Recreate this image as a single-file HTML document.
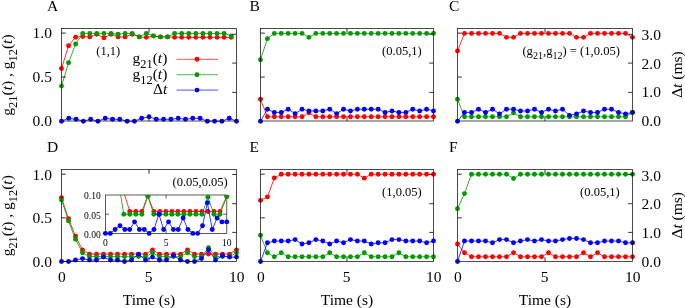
<!DOCTYPE html>
<html lang="en"><head><meta charset="utf-8"><title>Figure</title>
<style>html,body{margin:0;padding:0;background:#fff;overflow:hidden}svg{display:block;will-change:transform}</style></head>
<body>
<svg width="685" height="308" viewBox="0 0 685 308" font-family="'Liberation Serif', serif" fill="#000">
<rect width="685" height="308" fill="#fff"/>
<defs><clipPath id="ins"><rect x="105.4" y="195" width="121.4" height="38.4"/></clipPath></defs>
<g>
<polyline points="61.50,68.52 68.57,45.69 75.64,37.18 82.71,36.47 89.78,36.91 96.85,34.28 103.92,37.79 110.99,34.28 118.06,36.91 125.13,36.91 132.20,34.28 139.27,36.91 146.34,37.35 153.41,36.03 160.48,36.91 167.55,36.91 174.62,37.35 181.69,37.35 188.76,37.35 195.83,37.35 202.90,37.35 209.97,37.35 217.04,37.35 224.11,37.35 231.18,37.35" fill="none" stroke="#ff0000" stroke-width="0.80"/>
<circle cx="61.50" cy="68.52" r="2.45" fill="#ff0000"/>
<circle cx="68.57" cy="45.69" r="2.45" fill="#ff0000"/>
<circle cx="75.64" cy="37.18" r="2.45" fill="#ff0000"/>
<circle cx="82.71" cy="36.47" r="2.45" fill="#ff0000"/>
<circle cx="89.78" cy="36.91" r="2.45" fill="#ff0000"/>
<circle cx="96.85" cy="34.28" r="2.45" fill="#ff0000"/>
<circle cx="103.92" cy="37.79" r="2.45" fill="#ff0000"/>
<circle cx="110.99" cy="34.28" r="2.45" fill="#ff0000"/>
<circle cx="118.06" cy="36.91" r="2.45" fill="#ff0000"/>
<circle cx="125.13" cy="36.91" r="2.45" fill="#ff0000"/>
<circle cx="132.20" cy="34.28" r="2.45" fill="#ff0000"/>
<circle cx="139.27" cy="36.91" r="2.45" fill="#ff0000"/>
<circle cx="146.34" cy="37.35" r="2.45" fill="#ff0000"/>
<circle cx="153.41" cy="36.03" r="2.45" fill="#ff0000"/>
<circle cx="160.48" cy="36.91" r="2.45" fill="#ff0000"/>
<circle cx="167.55" cy="36.91" r="2.45" fill="#ff0000"/>
<circle cx="174.62" cy="37.35" r="2.45" fill="#ff0000"/>
<circle cx="181.69" cy="37.35" r="2.45" fill="#ff0000"/>
<circle cx="188.76" cy="37.35" r="2.45" fill="#ff0000"/>
<circle cx="195.83" cy="37.35" r="2.45" fill="#ff0000"/>
<circle cx="202.90" cy="37.35" r="2.45" fill="#ff0000"/>
<circle cx="209.97" cy="37.35" r="2.45" fill="#ff0000"/>
<circle cx="217.04" cy="37.35" r="2.45" fill="#ff0000"/>
<circle cx="224.11" cy="37.35" r="2.45" fill="#ff0000"/>
<circle cx="231.18" cy="37.35" r="2.45" fill="#ff0000"/>
</g>
<g>
<polyline points="61.50,86.08 68.57,62.81 75.64,43.94 82.71,33.40 89.78,33.40 96.85,33.40 103.92,33.40 110.99,33.40 118.06,34.28 125.13,33.40 132.20,33.40 139.27,36.91 146.34,33.40 153.41,35.86 160.48,36.91 167.55,36.91 174.62,33.40 181.69,33.40 188.76,33.40 195.83,33.40 202.90,33.40 209.97,33.40 217.04,33.40 224.11,33.40 231.18,35.86" fill="none" stroke="#009a00" stroke-width="0.80"/>
<circle cx="61.50" cy="86.08" r="2.45" fill="#009a00"/>
<circle cx="68.57" cy="62.81" r="2.45" fill="#009a00"/>
<circle cx="75.64" cy="43.94" r="2.45" fill="#009a00"/>
<circle cx="82.71" cy="33.40" r="2.45" fill="#009a00"/>
<circle cx="89.78" cy="33.40" r="2.45" fill="#009a00"/>
<circle cx="96.85" cy="33.40" r="2.45" fill="#009a00"/>
<circle cx="103.92" cy="33.40" r="2.45" fill="#009a00"/>
<circle cx="110.99" cy="33.40" r="2.45" fill="#009a00"/>
<circle cx="118.06" cy="34.28" r="2.45" fill="#009a00"/>
<circle cx="125.13" cy="33.40" r="2.45" fill="#009a00"/>
<circle cx="132.20" cy="33.40" r="2.45" fill="#009a00"/>
<circle cx="139.27" cy="36.91" r="2.45" fill="#009a00"/>
<circle cx="146.34" cy="33.40" r="2.45" fill="#009a00"/>
<circle cx="153.41" cy="35.86" r="2.45" fill="#009a00"/>
<circle cx="160.48" cy="36.91" r="2.45" fill="#009a00"/>
<circle cx="167.55" cy="36.91" r="2.45" fill="#009a00"/>
<circle cx="174.62" cy="33.40" r="2.45" fill="#009a00"/>
<circle cx="181.69" cy="33.40" r="2.45" fill="#009a00"/>
<circle cx="188.76" cy="33.40" r="2.45" fill="#009a00"/>
<circle cx="195.83" cy="33.40" r="2.45" fill="#009a00"/>
<circle cx="202.90" cy="33.40" r="2.45" fill="#009a00"/>
<circle cx="209.97" cy="33.40" r="2.45" fill="#009a00"/>
<circle cx="217.04" cy="33.40" r="2.45" fill="#009a00"/>
<circle cx="224.11" cy="33.40" r="2.45" fill="#009a00"/>
<circle cx="231.18" cy="35.86" r="2.45" fill="#009a00"/>
</g>
<g>
<polyline points="61.50,121.20 68.79,118.28 76.08,119.30 83.38,121.20 90.67,119.30 97.96,121.20 105.25,118.28 112.54,119.30 119.83,119.30 127.12,121.20 134.42,121.20 141.71,118.28 149.00,116.82 156.29,119.30 163.58,119.30 170.88,119.30 178.17,118.28 185.46,119.30 192.75,118.28 200.04,118.28 207.33,121.20 214.62,121.20 221.92,121.20 229.21,118.28 236.50,121.20" fill="none" stroke="#0000ff" stroke-width="0.80"/>
<circle cx="61.50" cy="121.20" r="2.45" fill="#0000ff"/>
<circle cx="68.79" cy="118.28" r="2.45" fill="#0000ff"/>
<circle cx="76.08" cy="119.30" r="2.45" fill="#0000ff"/>
<circle cx="83.38" cy="121.20" r="2.45" fill="#0000ff"/>
<circle cx="90.67" cy="119.30" r="2.45" fill="#0000ff"/>
<circle cx="97.96" cy="121.20" r="2.45" fill="#0000ff"/>
<circle cx="105.25" cy="118.28" r="2.45" fill="#0000ff"/>
<circle cx="112.54" cy="119.30" r="2.45" fill="#0000ff"/>
<circle cx="119.83" cy="119.30" r="2.45" fill="#0000ff"/>
<circle cx="127.12" cy="121.20" r="2.45" fill="#0000ff"/>
<circle cx="134.42" cy="121.20" r="2.45" fill="#0000ff"/>
<circle cx="141.71" cy="118.28" r="2.45" fill="#0000ff"/>
<circle cx="149.00" cy="116.82" r="2.45" fill="#0000ff"/>
<circle cx="156.29" cy="119.30" r="2.45" fill="#0000ff"/>
<circle cx="163.58" cy="119.30" r="2.45" fill="#0000ff"/>
<circle cx="170.88" cy="119.30" r="2.45" fill="#0000ff"/>
<circle cx="178.17" cy="118.28" r="2.45" fill="#0000ff"/>
<circle cx="185.46" cy="119.30" r="2.45" fill="#0000ff"/>
<circle cx="192.75" cy="118.28" r="2.45" fill="#0000ff"/>
<circle cx="200.04" cy="118.28" r="2.45" fill="#0000ff"/>
<circle cx="207.33" cy="121.20" r="2.45" fill="#0000ff"/>
<circle cx="214.62" cy="121.20" r="2.45" fill="#0000ff"/>
<circle cx="221.92" cy="121.20" r="2.45" fill="#0000ff"/>
<circle cx="229.21" cy="118.28" r="2.45" fill="#0000ff"/>
<circle cx="236.50" cy="121.20" r="2.45" fill="#0000ff"/>
</g>
<rect x="61.50" y="28.50" width="175.00" height="92.50" fill="none" stroke="#111" stroke-width="0.75"/>
<path d="M149.00 121.00v-4.30 M149.00 28.50v4.30 M61.50 77.05h4.30 M61.50 33.10h4.30 M236.50 92.40h-4.30 M236.50 63.10h-4.30 M236.50 34.30h-4.30 " stroke="#111" stroke-width="0.85" fill="none"/>
<g>
<polyline points="260.50,99.25 267.42,116.81 274.34,116.81 281.26,116.81 288.18,116.81 295.10,116.81 302.02,116.81 308.94,112.86 315.86,116.81 322.78,116.81 329.70,116.81 336.62,116.81 343.54,116.81 350.46,116.81 357.38,116.81 364.30,116.81 371.22,116.81 378.14,116.81 385.06,116.81 391.98,116.81 398.90,116.81 405.82,116.81 412.74,116.81 419.66,116.81 426.58,116.81 433.50,116.81" fill="none" stroke="#ff0000" stroke-width="0.80"/>
<circle cx="260.50" cy="99.25" r="2.45" fill="#ff0000"/>
<circle cx="267.42" cy="116.81" r="2.45" fill="#ff0000"/>
<circle cx="274.34" cy="116.81" r="2.45" fill="#ff0000"/>
<circle cx="281.26" cy="116.81" r="2.45" fill="#ff0000"/>
<circle cx="288.18" cy="116.81" r="2.45" fill="#ff0000"/>
<circle cx="295.10" cy="116.81" r="2.45" fill="#ff0000"/>
<circle cx="302.02" cy="116.81" r="2.45" fill="#ff0000"/>
<circle cx="308.94" cy="112.86" r="2.45" fill="#ff0000"/>
<circle cx="315.86" cy="116.81" r="2.45" fill="#ff0000"/>
<circle cx="322.78" cy="116.81" r="2.45" fill="#ff0000"/>
<circle cx="329.70" cy="116.81" r="2.45" fill="#ff0000"/>
<circle cx="336.62" cy="116.81" r="2.45" fill="#ff0000"/>
<circle cx="343.54" cy="116.81" r="2.45" fill="#ff0000"/>
<circle cx="350.46" cy="116.81" r="2.45" fill="#ff0000"/>
<circle cx="357.38" cy="116.81" r="2.45" fill="#ff0000"/>
<circle cx="364.30" cy="116.81" r="2.45" fill="#ff0000"/>
<circle cx="371.22" cy="116.81" r="2.45" fill="#ff0000"/>
<circle cx="378.14" cy="116.81" r="2.45" fill="#ff0000"/>
<circle cx="385.06" cy="116.81" r="2.45" fill="#ff0000"/>
<circle cx="391.98" cy="116.81" r="2.45" fill="#ff0000"/>
<circle cx="398.90" cy="116.81" r="2.45" fill="#ff0000"/>
<circle cx="405.82" cy="116.81" r="2.45" fill="#ff0000"/>
<circle cx="412.74" cy="116.81" r="2.45" fill="#ff0000"/>
<circle cx="419.66" cy="116.81" r="2.45" fill="#ff0000"/>
<circle cx="426.58" cy="116.81" r="2.45" fill="#ff0000"/>
<circle cx="433.50" cy="116.81" r="2.45" fill="#ff0000"/>
</g>
<g>
<polyline points="260.50,59.74 267.42,38.67 274.34,33.40 281.26,33.40 288.18,33.40 295.10,33.40 302.02,33.40 308.94,37.35 315.86,33.40 322.78,33.40 329.70,33.40 336.62,33.40 343.54,33.40 350.46,33.40 357.38,33.40 364.30,33.40 371.22,33.40 378.14,33.40 385.06,33.40 391.98,33.40 398.90,33.40 405.82,33.40 412.74,33.40 419.66,33.40 426.58,33.40 433.50,33.40" fill="none" stroke="#009a00" stroke-width="0.80"/>
<circle cx="260.50" cy="59.74" r="2.45" fill="#009a00"/>
<circle cx="267.42" cy="38.67" r="2.45" fill="#009a00"/>
<circle cx="274.34" cy="33.40" r="2.45" fill="#009a00"/>
<circle cx="281.26" cy="33.40" r="2.45" fill="#009a00"/>
<circle cx="288.18" cy="33.40" r="2.45" fill="#009a00"/>
<circle cx="295.10" cy="33.40" r="2.45" fill="#009a00"/>
<circle cx="302.02" cy="33.40" r="2.45" fill="#009a00"/>
<circle cx="308.94" cy="37.35" r="2.45" fill="#009a00"/>
<circle cx="315.86" cy="33.40" r="2.45" fill="#009a00"/>
<circle cx="322.78" cy="33.40" r="2.45" fill="#009a00"/>
<circle cx="329.70" cy="33.40" r="2.45" fill="#009a00"/>
<circle cx="336.62" cy="33.40" r="2.45" fill="#009a00"/>
<circle cx="343.54" cy="33.40" r="2.45" fill="#009a00"/>
<circle cx="350.46" cy="33.40" r="2.45" fill="#009a00"/>
<circle cx="357.38" cy="33.40" r="2.45" fill="#009a00"/>
<circle cx="364.30" cy="33.40" r="2.45" fill="#009a00"/>
<circle cx="371.22" cy="33.40" r="2.45" fill="#009a00"/>
<circle cx="378.14" cy="33.40" r="2.45" fill="#009a00"/>
<circle cx="385.06" cy="33.40" r="2.45" fill="#009a00"/>
<circle cx="391.98" cy="33.40" r="2.45" fill="#009a00"/>
<circle cx="398.90" cy="33.40" r="2.45" fill="#009a00"/>
<circle cx="405.82" cy="33.40" r="2.45" fill="#009a00"/>
<circle cx="412.74" cy="33.40" r="2.45" fill="#009a00"/>
<circle cx="419.66" cy="33.40" r="2.45" fill="#009a00"/>
<circle cx="426.58" cy="33.40" r="2.45" fill="#009a00"/>
<circle cx="433.50" cy="33.40" r="2.45" fill="#009a00"/>
</g>
<g>
<polyline points="260.50,121.20 267.42,109.23 274.34,112.44 281.26,112.44 288.18,109.23 295.10,113.61 302.02,109.23 308.94,110.98 315.86,110.98 322.78,110.98 329.70,109.23 336.62,113.61 343.54,109.23 350.46,110.98 357.38,109.23 364.30,109.23 371.22,109.23 378.14,109.23 385.06,112.44 391.98,110.98 398.90,112.44 405.82,112.44 412.74,109.23 419.66,110.98 426.58,109.23 433.50,110.98" fill="none" stroke="#0000ff" stroke-width="0.80"/>
<circle cx="260.50" cy="121.20" r="2.45" fill="#0000ff"/>
<circle cx="267.42" cy="109.23" r="2.45" fill="#0000ff"/>
<circle cx="274.34" cy="112.44" r="2.45" fill="#0000ff"/>
<circle cx="281.26" cy="112.44" r="2.45" fill="#0000ff"/>
<circle cx="288.18" cy="109.23" r="2.45" fill="#0000ff"/>
<circle cx="295.10" cy="113.61" r="2.45" fill="#0000ff"/>
<circle cx="302.02" cy="109.23" r="2.45" fill="#0000ff"/>
<circle cx="308.94" cy="110.98" r="2.45" fill="#0000ff"/>
<circle cx="315.86" cy="110.98" r="2.45" fill="#0000ff"/>
<circle cx="322.78" cy="110.98" r="2.45" fill="#0000ff"/>
<circle cx="329.70" cy="109.23" r="2.45" fill="#0000ff"/>
<circle cx="336.62" cy="113.61" r="2.45" fill="#0000ff"/>
<circle cx="343.54" cy="109.23" r="2.45" fill="#0000ff"/>
<circle cx="350.46" cy="110.98" r="2.45" fill="#0000ff"/>
<circle cx="357.38" cy="109.23" r="2.45" fill="#0000ff"/>
<circle cx="364.30" cy="109.23" r="2.45" fill="#0000ff"/>
<circle cx="371.22" cy="109.23" r="2.45" fill="#0000ff"/>
<circle cx="378.14" cy="109.23" r="2.45" fill="#0000ff"/>
<circle cx="385.06" cy="112.44" r="2.45" fill="#0000ff"/>
<circle cx="391.98" cy="110.98" r="2.45" fill="#0000ff"/>
<circle cx="398.90" cy="112.44" r="2.45" fill="#0000ff"/>
<circle cx="405.82" cy="112.44" r="2.45" fill="#0000ff"/>
<circle cx="412.74" cy="109.23" r="2.45" fill="#0000ff"/>
<circle cx="419.66" cy="110.98" r="2.45" fill="#0000ff"/>
<circle cx="426.58" cy="109.23" r="2.45" fill="#0000ff"/>
<circle cx="433.50" cy="110.98" r="2.45" fill="#0000ff"/>
</g>
<rect x="260.50" y="28.50" width="173.00" height="92.50" fill="none" stroke="#111" stroke-width="0.75"/>
<path d="M347.00 121.00v-4.30 M347.00 28.50v4.30 M260.50 77.05h4.30 M260.50 33.10h4.30 M433.50 92.40h-4.30 M433.50 63.10h-4.30 M433.50 34.30h-4.30 " stroke="#111" stroke-width="0.85" fill="none"/>
<g>
<polyline points="457.50,50.96 464.50,33.40 471.50,33.40 478.50,33.40 485.50,33.40 492.50,33.40 499.50,33.40 506.50,37.35 513.50,37.35 520.50,33.40 527.50,33.40 534.50,33.40 541.50,33.40 548.50,33.40 555.50,33.40 562.50,33.40 569.50,33.40 576.50,37.35 583.50,37.35 590.50,33.40 597.50,33.40 604.50,33.40 611.50,33.40 618.50,33.40 625.50,33.40 632.50,37.35" fill="none" stroke="#ff0000" stroke-width="0.80"/>
<circle cx="457.50" cy="50.96" r="2.45" fill="#ff0000"/>
<circle cx="464.50" cy="33.40" r="2.45" fill="#ff0000"/>
<circle cx="471.50" cy="33.40" r="2.45" fill="#ff0000"/>
<circle cx="478.50" cy="33.40" r="2.45" fill="#ff0000"/>
<circle cx="485.50" cy="33.40" r="2.45" fill="#ff0000"/>
<circle cx="492.50" cy="33.40" r="2.45" fill="#ff0000"/>
<circle cx="499.50" cy="33.40" r="2.45" fill="#ff0000"/>
<circle cx="506.50" cy="37.35" r="2.45" fill="#ff0000"/>
<circle cx="513.50" cy="37.35" r="2.45" fill="#ff0000"/>
<circle cx="520.50" cy="33.40" r="2.45" fill="#ff0000"/>
<circle cx="527.50" cy="33.40" r="2.45" fill="#ff0000"/>
<circle cx="534.50" cy="33.40" r="2.45" fill="#ff0000"/>
<circle cx="541.50" cy="33.40" r="2.45" fill="#ff0000"/>
<circle cx="548.50" cy="33.40" r="2.45" fill="#ff0000"/>
<circle cx="555.50" cy="33.40" r="2.45" fill="#ff0000"/>
<circle cx="562.50" cy="33.40" r="2.45" fill="#ff0000"/>
<circle cx="569.50" cy="33.40" r="2.45" fill="#ff0000"/>
<circle cx="576.50" cy="37.35" r="2.45" fill="#ff0000"/>
<circle cx="583.50" cy="37.35" r="2.45" fill="#ff0000"/>
<circle cx="590.50" cy="33.40" r="2.45" fill="#ff0000"/>
<circle cx="597.50" cy="33.40" r="2.45" fill="#ff0000"/>
<circle cx="604.50" cy="33.40" r="2.45" fill="#ff0000"/>
<circle cx="611.50" cy="33.40" r="2.45" fill="#ff0000"/>
<circle cx="618.50" cy="33.40" r="2.45" fill="#ff0000"/>
<circle cx="625.50" cy="33.40" r="2.45" fill="#ff0000"/>
<circle cx="632.50" cy="37.35" r="2.45" fill="#ff0000"/>
</g>
<g>
<polyline points="457.50,99.25 464.50,116.81 471.50,116.81 478.50,116.81 485.50,116.81 492.50,116.81 499.50,116.81 506.50,116.81 513.50,112.86 520.50,116.81 527.50,116.81 534.50,116.81 541.50,116.81 548.50,116.81 555.50,116.81 562.50,116.81 569.50,116.81 576.50,116.81 583.50,116.81 590.50,116.81 597.50,116.81 604.50,116.81 611.50,116.81 618.50,116.81 625.50,116.81 632.50,112.42" fill="none" stroke="#009a00" stroke-width="0.80"/>
<circle cx="457.50" cy="99.25" r="2.45" fill="#009a00"/>
<circle cx="464.50" cy="116.81" r="2.45" fill="#009a00"/>
<circle cx="471.50" cy="116.81" r="2.45" fill="#009a00"/>
<circle cx="478.50" cy="116.81" r="2.45" fill="#009a00"/>
<circle cx="485.50" cy="116.81" r="2.45" fill="#009a00"/>
<circle cx="492.50" cy="116.81" r="2.45" fill="#009a00"/>
<circle cx="499.50" cy="116.81" r="2.45" fill="#009a00"/>
<circle cx="506.50" cy="116.81" r="2.45" fill="#009a00"/>
<circle cx="513.50" cy="112.86" r="2.45" fill="#009a00"/>
<circle cx="520.50" cy="116.81" r="2.45" fill="#009a00"/>
<circle cx="527.50" cy="116.81" r="2.45" fill="#009a00"/>
<circle cx="534.50" cy="116.81" r="2.45" fill="#009a00"/>
<circle cx="541.50" cy="116.81" r="2.45" fill="#009a00"/>
<circle cx="548.50" cy="116.81" r="2.45" fill="#009a00"/>
<circle cx="555.50" cy="116.81" r="2.45" fill="#009a00"/>
<circle cx="562.50" cy="116.81" r="2.45" fill="#009a00"/>
<circle cx="569.50" cy="116.81" r="2.45" fill="#009a00"/>
<circle cx="576.50" cy="116.81" r="2.45" fill="#009a00"/>
<circle cx="583.50" cy="116.81" r="2.45" fill="#009a00"/>
<circle cx="590.50" cy="116.81" r="2.45" fill="#009a00"/>
<circle cx="597.50" cy="116.81" r="2.45" fill="#009a00"/>
<circle cx="604.50" cy="116.81" r="2.45" fill="#009a00"/>
<circle cx="611.50" cy="116.81" r="2.45" fill="#009a00"/>
<circle cx="618.50" cy="116.81" r="2.45" fill="#009a00"/>
<circle cx="625.50" cy="116.81" r="2.45" fill="#009a00"/>
<circle cx="632.50" cy="112.42" r="2.45" fill="#009a00"/>
</g>
<g>
<polyline points="457.50,121.20 464.50,112.44 471.50,112.44 478.50,109.23 485.50,112.44 492.50,109.23 499.50,113.90 506.50,109.23 513.50,109.23 520.50,110.98 527.50,110.98 534.50,109.23 541.50,112.44 548.50,109.23 555.50,110.98 562.50,109.23 569.50,115.36 576.50,113.90 583.50,110.98 590.50,112.44 597.50,112.44 604.50,109.23 611.50,109.23 618.50,112.44 625.50,113.90 632.50,112.44" fill="none" stroke="#0000ff" stroke-width="0.80"/>
<circle cx="457.50" cy="121.20" r="2.45" fill="#0000ff"/>
<circle cx="464.50" cy="112.44" r="2.45" fill="#0000ff"/>
<circle cx="471.50" cy="112.44" r="2.45" fill="#0000ff"/>
<circle cx="478.50" cy="109.23" r="2.45" fill="#0000ff"/>
<circle cx="485.50" cy="112.44" r="2.45" fill="#0000ff"/>
<circle cx="492.50" cy="109.23" r="2.45" fill="#0000ff"/>
<circle cx="499.50" cy="113.90" r="2.45" fill="#0000ff"/>
<circle cx="506.50" cy="109.23" r="2.45" fill="#0000ff"/>
<circle cx="513.50" cy="109.23" r="2.45" fill="#0000ff"/>
<circle cx="520.50" cy="110.98" r="2.45" fill="#0000ff"/>
<circle cx="527.50" cy="110.98" r="2.45" fill="#0000ff"/>
<circle cx="534.50" cy="109.23" r="2.45" fill="#0000ff"/>
<circle cx="541.50" cy="112.44" r="2.45" fill="#0000ff"/>
<circle cx="548.50" cy="109.23" r="2.45" fill="#0000ff"/>
<circle cx="555.50" cy="110.98" r="2.45" fill="#0000ff"/>
<circle cx="562.50" cy="109.23" r="2.45" fill="#0000ff"/>
<circle cx="569.50" cy="115.36" r="2.45" fill="#0000ff"/>
<circle cx="576.50" cy="113.90" r="2.45" fill="#0000ff"/>
<circle cx="583.50" cy="110.98" r="2.45" fill="#0000ff"/>
<circle cx="590.50" cy="112.44" r="2.45" fill="#0000ff"/>
<circle cx="597.50" cy="112.44" r="2.45" fill="#0000ff"/>
<circle cx="604.50" cy="109.23" r="2.45" fill="#0000ff"/>
<circle cx="611.50" cy="109.23" r="2.45" fill="#0000ff"/>
<circle cx="618.50" cy="112.44" r="2.45" fill="#0000ff"/>
<circle cx="625.50" cy="113.90" r="2.45" fill="#0000ff"/>
<circle cx="632.50" cy="112.44" r="2.45" fill="#0000ff"/>
</g>
<rect x="457.50" y="28.50" width="175.00" height="92.50" fill="none" stroke="#111" stroke-width="0.75"/>
<path d="M545.00 121.00v-4.30 M545.00 28.50v4.30 M457.50 77.05h4.30 M457.50 33.10h4.30 M632.50 92.40h-4.30 M632.50 63.10h-4.30 M632.50 34.30h-4.30 " stroke="#111" stroke-width="0.85" fill="none"/>
<g>
<polyline points="61.50,197.77 68.50,218.72 75.50,236.18 82.50,249.98 89.50,254.08 96.50,254.08 103.50,254.08 110.50,254.08 117.50,254.08 124.50,254.08 131.50,254.08 138.50,254.08 145.50,254.08 152.50,249.89 159.50,254.08 166.50,254.08 173.50,254.08 180.50,254.08 187.50,249.89 194.50,254.08 201.50,254.08 208.50,254.08 215.50,254.08 222.50,254.08 229.50,254.08 236.50,249.89" fill="none" stroke="#ff0000" stroke-width="0.80"/>
<circle cx="61.50" cy="197.77" r="2.45" fill="#ff0000"/>
<circle cx="68.50" cy="218.72" r="2.45" fill="#ff0000"/>
<circle cx="75.50" cy="236.18" r="2.45" fill="#ff0000"/>
<circle cx="82.50" cy="249.98" r="2.45" fill="#ff0000"/>
<circle cx="89.50" cy="254.08" r="2.45" fill="#ff0000"/>
<circle cx="96.50" cy="254.08" r="2.45" fill="#ff0000"/>
<circle cx="103.50" cy="254.08" r="2.45" fill="#ff0000"/>
<circle cx="110.50" cy="254.08" r="2.45" fill="#ff0000"/>
<circle cx="117.50" cy="254.08" r="2.45" fill="#ff0000"/>
<circle cx="124.50" cy="254.08" r="2.45" fill="#ff0000"/>
<circle cx="131.50" cy="254.08" r="2.45" fill="#ff0000"/>
<circle cx="138.50" cy="254.08" r="2.45" fill="#ff0000"/>
<circle cx="145.50" cy="254.08" r="2.45" fill="#ff0000"/>
<circle cx="152.50" cy="249.89" r="2.45" fill="#ff0000"/>
<circle cx="159.50" cy="254.08" r="2.45" fill="#ff0000"/>
<circle cx="166.50" cy="254.08" r="2.45" fill="#ff0000"/>
<circle cx="173.50" cy="254.08" r="2.45" fill="#ff0000"/>
<circle cx="180.50" cy="254.08" r="2.45" fill="#ff0000"/>
<circle cx="187.50" cy="249.89" r="2.45" fill="#ff0000"/>
<circle cx="194.50" cy="254.08" r="2.45" fill="#ff0000"/>
<circle cx="201.50" cy="254.08" r="2.45" fill="#ff0000"/>
<circle cx="208.50" cy="254.08" r="2.45" fill="#ff0000"/>
<circle cx="215.50" cy="254.08" r="2.45" fill="#ff0000"/>
<circle cx="222.50" cy="254.08" r="2.45" fill="#ff0000"/>
<circle cx="229.50" cy="254.08" r="2.45" fill="#ff0000"/>
<circle cx="236.50" cy="249.89" r="2.45" fill="#ff0000"/>
</g>
<g>
<polyline points="61.50,199.95 68.50,220.91 75.50,239.24 82.50,252.77 89.50,256.61 96.50,256.61 103.50,256.61 110.50,256.61 117.50,256.61 124.50,256.61 131.50,256.61 138.50,256.61 145.50,256.61 152.50,252.77 159.50,256.61 166.50,256.61 173.50,256.61 180.50,256.61 187.50,252.77 194.50,256.61 201.50,256.61 208.50,247.79 215.50,256.61 222.50,256.61 229.50,256.61 236.50,252.77" fill="none" stroke="#009a00" stroke-width="0.80"/>
<circle cx="61.50" cy="199.95" r="2.45" fill="#009a00"/>
<circle cx="68.50" cy="220.91" r="2.45" fill="#009a00"/>
<circle cx="75.50" cy="239.24" r="2.45" fill="#009a00"/>
<circle cx="82.50" cy="252.77" r="2.45" fill="#009a00"/>
<circle cx="89.50" cy="256.61" r="2.45" fill="#009a00"/>
<circle cx="96.50" cy="256.61" r="2.45" fill="#009a00"/>
<circle cx="103.50" cy="256.61" r="2.45" fill="#009a00"/>
<circle cx="110.50" cy="256.61" r="2.45" fill="#009a00"/>
<circle cx="117.50" cy="256.61" r="2.45" fill="#009a00"/>
<circle cx="124.50" cy="256.61" r="2.45" fill="#009a00"/>
<circle cx="131.50" cy="256.61" r="2.45" fill="#009a00"/>
<circle cx="138.50" cy="256.61" r="2.45" fill="#009a00"/>
<circle cx="145.50" cy="256.61" r="2.45" fill="#009a00"/>
<circle cx="152.50" cy="252.77" r="2.45" fill="#009a00"/>
<circle cx="159.50" cy="256.61" r="2.45" fill="#009a00"/>
<circle cx="166.50" cy="256.61" r="2.45" fill="#009a00"/>
<circle cx="173.50" cy="256.61" r="2.45" fill="#009a00"/>
<circle cx="180.50" cy="256.61" r="2.45" fill="#009a00"/>
<circle cx="187.50" cy="252.77" r="2.45" fill="#009a00"/>
<circle cx="194.50" cy="256.61" r="2.45" fill="#009a00"/>
<circle cx="201.50" cy="256.61" r="2.45" fill="#009a00"/>
<circle cx="208.50" cy="247.79" r="2.45" fill="#009a00"/>
<circle cx="215.50" cy="256.61" r="2.45" fill="#009a00"/>
<circle cx="222.50" cy="256.61" r="2.45" fill="#009a00"/>
<circle cx="229.50" cy="256.61" r="2.45" fill="#009a00"/>
<circle cx="236.50" cy="252.77" r="2.45" fill="#009a00"/>
</g>
<g>
<polyline points="61.50,261.50 68.50,261.50 75.50,260.04 82.50,258.58 89.50,260.04 96.50,260.04 103.50,257.12 110.50,260.04 117.50,260.04 124.50,261.50 131.50,260.04 138.50,254.20 145.50,260.04 152.50,257.12 159.50,260.04 166.50,260.04 173.50,255.66 180.50,260.04 187.50,261.50 194.50,261.50 201.50,258.58 208.50,249.82 215.50,260.04 222.50,255.66 229.50,257.12 236.50,257.12" fill="none" stroke="#0000ff" stroke-width="0.80"/>
<circle cx="61.50" cy="261.50" r="2.45" fill="#0000ff"/>
<circle cx="68.50" cy="261.50" r="2.45" fill="#0000ff"/>
<circle cx="75.50" cy="260.04" r="2.45" fill="#0000ff"/>
<circle cx="82.50" cy="258.58" r="2.45" fill="#0000ff"/>
<circle cx="89.50" cy="260.04" r="2.45" fill="#0000ff"/>
<circle cx="96.50" cy="260.04" r="2.45" fill="#0000ff"/>
<circle cx="103.50" cy="257.12" r="2.45" fill="#0000ff"/>
<circle cx="110.50" cy="260.04" r="2.45" fill="#0000ff"/>
<circle cx="117.50" cy="260.04" r="2.45" fill="#0000ff"/>
<circle cx="124.50" cy="261.50" r="2.45" fill="#0000ff"/>
<circle cx="131.50" cy="260.04" r="2.45" fill="#0000ff"/>
<circle cx="138.50" cy="254.20" r="2.45" fill="#0000ff"/>
<circle cx="145.50" cy="260.04" r="2.45" fill="#0000ff"/>
<circle cx="152.50" cy="257.12" r="2.45" fill="#0000ff"/>
<circle cx="159.50" cy="260.04" r="2.45" fill="#0000ff"/>
<circle cx="166.50" cy="260.04" r="2.45" fill="#0000ff"/>
<circle cx="173.50" cy="255.66" r="2.45" fill="#0000ff"/>
<circle cx="180.50" cy="260.04" r="2.45" fill="#0000ff"/>
<circle cx="187.50" cy="261.50" r="2.45" fill="#0000ff"/>
<circle cx="194.50" cy="261.50" r="2.45" fill="#0000ff"/>
<circle cx="201.50" cy="258.58" r="2.45" fill="#0000ff"/>
<circle cx="208.50" cy="249.82" r="2.45" fill="#0000ff"/>
<circle cx="215.50" cy="260.04" r="2.45" fill="#0000ff"/>
<circle cx="222.50" cy="255.66" r="2.45" fill="#0000ff"/>
<circle cx="229.50" cy="257.12" r="2.45" fill="#0000ff"/>
<circle cx="236.50" cy="257.12" r="2.45" fill="#0000ff"/>
</g>
<rect x="61.50" y="169.40" width="175.00" height="92.10" fill="none" stroke="#111" stroke-width="0.75"/>
<path d="M149.00 261.50v-4.30 M149.00 169.40v4.30 M61.50 217.85h4.30 M61.50 174.20h4.30 M236.50 232.40h-4.30 M236.50 203.70h-4.30 M236.50 174.50h-4.30 " stroke="#111" stroke-width="0.85" fill="none"/>
<g>
<polyline points="260.50,200.39 267.42,196.90 274.34,178.04 281.26,174.20 288.18,174.20 295.10,174.20 302.02,174.20 308.94,174.20 315.86,174.20 322.78,174.20 329.70,174.20 336.62,174.20 343.54,174.20 350.46,174.20 357.38,174.20 364.30,178.13 371.22,174.20 378.14,174.20 385.06,174.20 391.98,174.20 398.90,174.20 405.82,174.20 412.74,174.20 419.66,174.20 426.58,174.20 433.50,174.20" fill="none" stroke="#ff0000" stroke-width="0.80"/>
<circle cx="260.50" cy="200.39" r="2.45" fill="#ff0000"/>
<circle cx="267.42" cy="196.90" r="2.45" fill="#ff0000"/>
<circle cx="274.34" cy="178.04" r="2.45" fill="#ff0000"/>
<circle cx="281.26" cy="174.20" r="2.45" fill="#ff0000"/>
<circle cx="288.18" cy="174.20" r="2.45" fill="#ff0000"/>
<circle cx="295.10" cy="174.20" r="2.45" fill="#ff0000"/>
<circle cx="302.02" cy="174.20" r="2.45" fill="#ff0000"/>
<circle cx="308.94" cy="174.20" r="2.45" fill="#ff0000"/>
<circle cx="315.86" cy="174.20" r="2.45" fill="#ff0000"/>
<circle cx="322.78" cy="174.20" r="2.45" fill="#ff0000"/>
<circle cx="329.70" cy="174.20" r="2.45" fill="#ff0000"/>
<circle cx="336.62" cy="174.20" r="2.45" fill="#ff0000"/>
<circle cx="343.54" cy="174.20" r="2.45" fill="#ff0000"/>
<circle cx="350.46" cy="174.20" r="2.45" fill="#ff0000"/>
<circle cx="357.38" cy="174.20" r="2.45" fill="#ff0000"/>
<circle cx="364.30" cy="178.13" r="2.45" fill="#ff0000"/>
<circle cx="371.22" cy="174.20" r="2.45" fill="#ff0000"/>
<circle cx="378.14" cy="174.20" r="2.45" fill="#ff0000"/>
<circle cx="385.06" cy="174.20" r="2.45" fill="#ff0000"/>
<circle cx="391.98" cy="174.20" r="2.45" fill="#ff0000"/>
<circle cx="398.90" cy="174.20" r="2.45" fill="#ff0000"/>
<circle cx="405.82" cy="174.20" r="2.45" fill="#ff0000"/>
<circle cx="412.74" cy="174.20" r="2.45" fill="#ff0000"/>
<circle cx="419.66" cy="174.20" r="2.45" fill="#ff0000"/>
<circle cx="426.58" cy="174.20" r="2.45" fill="#ff0000"/>
<circle cx="433.50" cy="174.20" r="2.45" fill="#ff0000"/>
</g>
<g>
<polyline points="260.50,235.31 267.42,252.77 274.34,256.79 281.26,252.77 288.18,256.79 295.10,256.79 302.02,256.79 308.94,256.79 315.86,256.79 322.78,256.79 329.70,252.77 336.62,256.79 343.54,256.79 350.46,256.79 357.38,256.79 364.30,252.77 371.22,256.79 378.14,256.79 385.06,256.79 391.98,256.79 398.90,252.77 405.82,256.79 412.74,256.79 419.66,256.79 426.58,256.79 433.50,256.79" fill="none" stroke="#009a00" stroke-width="0.80"/>
<circle cx="260.50" cy="235.31" r="2.45" fill="#009a00"/>
<circle cx="267.42" cy="252.77" r="2.45" fill="#009a00"/>
<circle cx="274.34" cy="256.79" r="2.45" fill="#009a00"/>
<circle cx="281.26" cy="252.77" r="2.45" fill="#009a00"/>
<circle cx="288.18" cy="256.79" r="2.45" fill="#009a00"/>
<circle cx="295.10" cy="256.79" r="2.45" fill="#009a00"/>
<circle cx="302.02" cy="256.79" r="2.45" fill="#009a00"/>
<circle cx="308.94" cy="256.79" r="2.45" fill="#009a00"/>
<circle cx="315.86" cy="256.79" r="2.45" fill="#009a00"/>
<circle cx="322.78" cy="256.79" r="2.45" fill="#009a00"/>
<circle cx="329.70" cy="252.77" r="2.45" fill="#009a00"/>
<circle cx="336.62" cy="256.79" r="2.45" fill="#009a00"/>
<circle cx="343.54" cy="256.79" r="2.45" fill="#009a00"/>
<circle cx="350.46" cy="256.79" r="2.45" fill="#009a00"/>
<circle cx="357.38" cy="256.79" r="2.45" fill="#009a00"/>
<circle cx="364.30" cy="252.77" r="2.45" fill="#009a00"/>
<circle cx="371.22" cy="256.79" r="2.45" fill="#009a00"/>
<circle cx="378.14" cy="256.79" r="2.45" fill="#009a00"/>
<circle cx="385.06" cy="256.79" r="2.45" fill="#009a00"/>
<circle cx="391.98" cy="256.79" r="2.45" fill="#009a00"/>
<circle cx="398.90" cy="252.77" r="2.45" fill="#009a00"/>
<circle cx="405.82" cy="256.79" r="2.45" fill="#009a00"/>
<circle cx="412.74" cy="256.79" r="2.45" fill="#009a00"/>
<circle cx="419.66" cy="256.79" r="2.45" fill="#009a00"/>
<circle cx="426.58" cy="256.79" r="2.45" fill="#009a00"/>
<circle cx="433.50" cy="256.79" r="2.45" fill="#009a00"/>
</g>
<g>
<polyline points="260.50,261.50 267.42,242.81 274.34,241.06 281.26,241.06 288.18,241.06 295.10,239.60 302.02,243.98 308.94,242.81 315.86,239.60 322.78,241.06 329.70,243.98 336.62,241.06 343.54,242.81 350.46,239.60 357.38,241.06 364.30,241.06 371.22,243.98 378.14,242.81 385.06,242.81 391.98,239.60 398.90,239.60 405.82,241.06 412.74,241.06 419.66,241.06 426.58,242.81 433.50,241.06" fill="none" stroke="#0000ff" stroke-width="0.80"/>
<circle cx="260.50" cy="261.50" r="2.45" fill="#0000ff"/>
<circle cx="267.42" cy="242.81" r="2.45" fill="#0000ff"/>
<circle cx="274.34" cy="241.06" r="2.45" fill="#0000ff"/>
<circle cx="281.26" cy="241.06" r="2.45" fill="#0000ff"/>
<circle cx="288.18" cy="241.06" r="2.45" fill="#0000ff"/>
<circle cx="295.10" cy="239.60" r="2.45" fill="#0000ff"/>
<circle cx="302.02" cy="243.98" r="2.45" fill="#0000ff"/>
<circle cx="308.94" cy="242.81" r="2.45" fill="#0000ff"/>
<circle cx="315.86" cy="239.60" r="2.45" fill="#0000ff"/>
<circle cx="322.78" cy="241.06" r="2.45" fill="#0000ff"/>
<circle cx="329.70" cy="243.98" r="2.45" fill="#0000ff"/>
<circle cx="336.62" cy="241.06" r="2.45" fill="#0000ff"/>
<circle cx="343.54" cy="242.81" r="2.45" fill="#0000ff"/>
<circle cx="350.46" cy="239.60" r="2.45" fill="#0000ff"/>
<circle cx="357.38" cy="241.06" r="2.45" fill="#0000ff"/>
<circle cx="364.30" cy="241.06" r="2.45" fill="#0000ff"/>
<circle cx="371.22" cy="243.98" r="2.45" fill="#0000ff"/>
<circle cx="378.14" cy="242.81" r="2.45" fill="#0000ff"/>
<circle cx="385.06" cy="242.81" r="2.45" fill="#0000ff"/>
<circle cx="391.98" cy="239.60" r="2.45" fill="#0000ff"/>
<circle cx="398.90" cy="239.60" r="2.45" fill="#0000ff"/>
<circle cx="405.82" cy="241.06" r="2.45" fill="#0000ff"/>
<circle cx="412.74" cy="241.06" r="2.45" fill="#0000ff"/>
<circle cx="419.66" cy="241.06" r="2.45" fill="#0000ff"/>
<circle cx="426.58" cy="242.81" r="2.45" fill="#0000ff"/>
<circle cx="433.50" cy="241.06" r="2.45" fill="#0000ff"/>
</g>
<rect x="260.50" y="169.40" width="173.00" height="92.10" fill="none" stroke="#111" stroke-width="0.75"/>
<path d="M347.00 261.50v-4.30 M347.00 169.40v4.30 M260.50 217.85h4.30 M260.50 174.20h4.30 M433.50 232.40h-4.30 M433.50 203.70h-4.30 M433.50 174.50h-4.30 " stroke="#111" stroke-width="0.85" fill="none"/>
<g>
<polyline points="457.50,244.04 464.50,252.77 471.50,256.79 478.50,256.79 485.50,256.79 492.50,256.79 499.50,256.79 506.50,256.79 513.50,252.77 520.50,256.79 527.50,256.79 534.50,256.79 541.50,256.79 548.50,252.77 555.50,256.79 562.50,256.79 569.50,256.79 576.50,256.79 583.50,252.77 590.50,256.79 597.50,252.77 604.50,256.79 611.50,256.79 618.50,256.79 625.50,256.79 632.50,256.79" fill="none" stroke="#ff0000" stroke-width="0.80"/>
<circle cx="457.50" cy="244.04" r="2.45" fill="#ff0000"/>
<circle cx="464.50" cy="252.77" r="2.45" fill="#ff0000"/>
<circle cx="471.50" cy="256.79" r="2.45" fill="#ff0000"/>
<circle cx="478.50" cy="256.79" r="2.45" fill="#ff0000"/>
<circle cx="485.50" cy="256.79" r="2.45" fill="#ff0000"/>
<circle cx="492.50" cy="256.79" r="2.45" fill="#ff0000"/>
<circle cx="499.50" cy="256.79" r="2.45" fill="#ff0000"/>
<circle cx="506.50" cy="256.79" r="2.45" fill="#ff0000"/>
<circle cx="513.50" cy="252.77" r="2.45" fill="#ff0000"/>
<circle cx="520.50" cy="256.79" r="2.45" fill="#ff0000"/>
<circle cx="527.50" cy="256.79" r="2.45" fill="#ff0000"/>
<circle cx="534.50" cy="256.79" r="2.45" fill="#ff0000"/>
<circle cx="541.50" cy="256.79" r="2.45" fill="#ff0000"/>
<circle cx="548.50" cy="252.77" r="2.45" fill="#ff0000"/>
<circle cx="555.50" cy="256.79" r="2.45" fill="#ff0000"/>
<circle cx="562.50" cy="256.79" r="2.45" fill="#ff0000"/>
<circle cx="569.50" cy="256.79" r="2.45" fill="#ff0000"/>
<circle cx="576.50" cy="256.79" r="2.45" fill="#ff0000"/>
<circle cx="583.50" cy="252.77" r="2.45" fill="#ff0000"/>
<circle cx="590.50" cy="256.79" r="2.45" fill="#ff0000"/>
<circle cx="597.50" cy="252.77" r="2.45" fill="#ff0000"/>
<circle cx="604.50" cy="256.79" r="2.45" fill="#ff0000"/>
<circle cx="611.50" cy="256.79" r="2.45" fill="#ff0000"/>
<circle cx="618.50" cy="256.79" r="2.45" fill="#ff0000"/>
<circle cx="625.50" cy="256.79" r="2.45" fill="#ff0000"/>
<circle cx="632.50" cy="256.79" r="2.45" fill="#ff0000"/>
</g>
<g>
<polyline points="457.50,208.68 464.50,193.58 471.50,174.20 478.50,174.20 485.50,174.20 492.50,174.20 499.50,174.20 506.50,174.20 513.50,178.56 520.50,174.20 527.50,174.20 534.50,174.20 541.50,174.20 548.50,174.20 555.50,174.20 562.50,174.20 569.50,174.20 576.50,174.20 583.50,174.20 590.50,174.20 597.50,174.20 604.50,174.20 611.50,174.20 618.50,174.20 625.50,174.20 632.50,174.20" fill="none" stroke="#009a00" stroke-width="0.80"/>
<circle cx="457.50" cy="208.68" r="2.45" fill="#009a00"/>
<circle cx="464.50" cy="193.58" r="2.45" fill="#009a00"/>
<circle cx="471.50" cy="174.20" r="2.45" fill="#009a00"/>
<circle cx="478.50" cy="174.20" r="2.45" fill="#009a00"/>
<circle cx="485.50" cy="174.20" r="2.45" fill="#009a00"/>
<circle cx="492.50" cy="174.20" r="2.45" fill="#009a00"/>
<circle cx="499.50" cy="174.20" r="2.45" fill="#009a00"/>
<circle cx="506.50" cy="174.20" r="2.45" fill="#009a00"/>
<circle cx="513.50" cy="178.56" r="2.45" fill="#009a00"/>
<circle cx="520.50" cy="174.20" r="2.45" fill="#009a00"/>
<circle cx="527.50" cy="174.20" r="2.45" fill="#009a00"/>
<circle cx="534.50" cy="174.20" r="2.45" fill="#009a00"/>
<circle cx="541.50" cy="174.20" r="2.45" fill="#009a00"/>
<circle cx="548.50" cy="174.20" r="2.45" fill="#009a00"/>
<circle cx="555.50" cy="174.20" r="2.45" fill="#009a00"/>
<circle cx="562.50" cy="174.20" r="2.45" fill="#009a00"/>
<circle cx="569.50" cy="174.20" r="2.45" fill="#009a00"/>
<circle cx="576.50" cy="174.20" r="2.45" fill="#009a00"/>
<circle cx="583.50" cy="174.20" r="2.45" fill="#009a00"/>
<circle cx="590.50" cy="174.20" r="2.45" fill="#009a00"/>
<circle cx="597.50" cy="174.20" r="2.45" fill="#009a00"/>
<circle cx="604.50" cy="174.20" r="2.45" fill="#009a00"/>
<circle cx="611.50" cy="174.20" r="2.45" fill="#009a00"/>
<circle cx="618.50" cy="174.20" r="2.45" fill="#009a00"/>
<circle cx="625.50" cy="174.20" r="2.45" fill="#009a00"/>
<circle cx="632.50" cy="174.20" r="2.45" fill="#009a00"/>
</g>
<g>
<polyline points="457.50,261.50 464.50,241.06 471.50,241.06 478.50,241.06 485.50,241.06 492.50,242.81 499.50,239.60 506.50,239.60 513.50,242.81 520.50,241.06 527.50,239.60 534.50,241.06 541.50,239.60 548.50,241.06 555.50,241.06 562.50,239.60 569.50,238.43 576.50,238.43 583.50,239.60 590.50,242.81 597.50,242.81 604.50,241.06 611.50,241.06 618.50,241.06 625.50,242.81 632.50,242.81" fill="none" stroke="#0000ff" stroke-width="0.80"/>
<circle cx="457.50" cy="261.50" r="2.45" fill="#0000ff"/>
<circle cx="464.50" cy="241.06" r="2.45" fill="#0000ff"/>
<circle cx="471.50" cy="241.06" r="2.45" fill="#0000ff"/>
<circle cx="478.50" cy="241.06" r="2.45" fill="#0000ff"/>
<circle cx="485.50" cy="241.06" r="2.45" fill="#0000ff"/>
<circle cx="492.50" cy="242.81" r="2.45" fill="#0000ff"/>
<circle cx="499.50" cy="239.60" r="2.45" fill="#0000ff"/>
<circle cx="506.50" cy="239.60" r="2.45" fill="#0000ff"/>
<circle cx="513.50" cy="242.81" r="2.45" fill="#0000ff"/>
<circle cx="520.50" cy="241.06" r="2.45" fill="#0000ff"/>
<circle cx="527.50" cy="239.60" r="2.45" fill="#0000ff"/>
<circle cx="534.50" cy="241.06" r="2.45" fill="#0000ff"/>
<circle cx="541.50" cy="239.60" r="2.45" fill="#0000ff"/>
<circle cx="548.50" cy="241.06" r="2.45" fill="#0000ff"/>
<circle cx="555.50" cy="241.06" r="2.45" fill="#0000ff"/>
<circle cx="562.50" cy="239.60" r="2.45" fill="#0000ff"/>
<circle cx="569.50" cy="238.43" r="2.45" fill="#0000ff"/>
<circle cx="576.50" cy="238.43" r="2.45" fill="#0000ff"/>
<circle cx="583.50" cy="239.60" r="2.45" fill="#0000ff"/>
<circle cx="590.50" cy="242.81" r="2.45" fill="#0000ff"/>
<circle cx="597.50" cy="242.81" r="2.45" fill="#0000ff"/>
<circle cx="604.50" cy="241.06" r="2.45" fill="#0000ff"/>
<circle cx="611.50" cy="241.06" r="2.45" fill="#0000ff"/>
<circle cx="618.50" cy="241.06" r="2.45" fill="#0000ff"/>
<circle cx="625.50" cy="242.81" r="2.45" fill="#0000ff"/>
<circle cx="632.50" cy="242.81" r="2.45" fill="#0000ff"/>
</g>
<rect x="457.50" y="169.40" width="175.00" height="92.10" fill="none" stroke="#111" stroke-width="0.75"/>
<path d="M545.00 261.50v-4.30 M545.00 169.40v4.30 M457.50 217.85h4.30 M457.50 174.20h4.30 M632.50 232.40h-4.30 M632.50 203.70h-4.30 M632.50 174.50h-4.30 " stroke="#111" stroke-width="0.85" fill="none"/>
<rect x="105.40" y="195.00" width="121.40" height="38.40" fill="#fff" stroke="#111" stroke-width="0.68"/>
<path d="M166.10 233.40v-3.60 M166.10 195.00v3.60 M105.40 214.20h3.60 M226.80 214.20h-3.60 " stroke="#111" stroke-width="0.68" fill="none"/>
<g clip-path="url(#ins2)">
<polyline points="105.75,79.80 111.76,118.20 117.77,156.60 123.78,192.12 129.79,211.51 135.80,211.51 141.81,211.51 147.82,195.77 153.83,211.51 159.84,211.51 165.85,211.51 171.86,211.51 177.87,211.51 183.88,211.51 189.89,211.51 195.90,211.51 201.91,211.51 207.92,211.51 213.93,211.51 219.94,211.51 226.80,196.15" fill="none" stroke="#ff0000" stroke-width="0.80"/>
<circle cx="105.75" cy="79.80" r="2.45" fill="#ff0000"/>
<circle cx="111.76" cy="118.20" r="2.45" fill="#ff0000"/>
<circle cx="117.77" cy="156.60" r="2.45" fill="#ff0000"/>
<circle cx="123.78" cy="192.12" r="2.45" fill="#ff0000"/>
<circle cx="129.79" cy="211.51" r="2.45" fill="#ff0000"/>
<circle cx="135.80" cy="211.51" r="2.45" fill="#ff0000"/>
<circle cx="141.81" cy="211.51" r="2.45" fill="#ff0000"/>
<circle cx="147.82" cy="195.77" r="2.45" fill="#ff0000"/>
<circle cx="153.83" cy="211.51" r="2.45" fill="#ff0000"/>
<circle cx="159.84" cy="211.51" r="2.45" fill="#ff0000"/>
<circle cx="165.85" cy="211.51" r="2.45" fill="#ff0000"/>
<circle cx="171.86" cy="211.51" r="2.45" fill="#ff0000"/>
<circle cx="177.87" cy="211.51" r="2.45" fill="#ff0000"/>
<circle cx="183.88" cy="211.51" r="2.45" fill="#ff0000"/>
<circle cx="189.89" cy="211.51" r="2.45" fill="#ff0000"/>
<circle cx="195.90" cy="211.51" r="2.45" fill="#ff0000"/>
<circle cx="201.91" cy="211.51" r="2.45" fill="#ff0000"/>
<circle cx="207.92" cy="211.51" r="2.45" fill="#ff0000"/>
<circle cx="213.93" cy="211.51" r="2.45" fill="#ff0000"/>
<circle cx="219.94" cy="211.51" r="2.45" fill="#ff0000"/>
<circle cx="226.80" cy="196.15" r="2.45" fill="#ff0000"/>
</g>
<g clip-path="url(#ins2)">
<polyline points="105.75,79.80 111.76,125.88 117.77,176.95 123.78,214.20 129.79,214.20 135.80,214.20 141.81,214.20 147.82,196.15 153.83,214.20 159.84,214.20 165.85,214.20 171.86,214.20 177.87,214.20 183.88,214.20 189.89,214.20 195.90,214.20 201.91,214.20 207.92,197.30 213.93,214.20 219.94,214.20 226.80,196.54" fill="none" stroke="#009a00" stroke-width="0.80"/>
<circle cx="105.75" cy="79.80" r="2.45" fill="#009a00"/>
<circle cx="111.76" cy="125.88" r="2.45" fill="#009a00"/>
<circle cx="117.77" cy="176.95" r="2.45" fill="#009a00"/>
<circle cx="123.78" cy="214.20" r="2.45" fill="#009a00"/>
<circle cx="129.79" cy="214.20" r="2.45" fill="#009a00"/>
<circle cx="135.80" cy="214.20" r="2.45" fill="#009a00"/>
<circle cx="141.81" cy="214.20" r="2.45" fill="#009a00"/>
<circle cx="147.82" cy="196.15" r="2.45" fill="#009a00"/>
<circle cx="153.83" cy="214.20" r="2.45" fill="#009a00"/>
<circle cx="159.84" cy="214.20" r="2.45" fill="#009a00"/>
<circle cx="165.85" cy="214.20" r="2.45" fill="#009a00"/>
<circle cx="171.86" cy="214.20" r="2.45" fill="#009a00"/>
<circle cx="177.87" cy="214.20" r="2.45" fill="#009a00"/>
<circle cx="183.88" cy="214.20" r="2.45" fill="#009a00"/>
<circle cx="189.89" cy="214.20" r="2.45" fill="#009a00"/>
<circle cx="195.90" cy="214.20" r="2.45" fill="#009a00"/>
<circle cx="201.91" cy="214.20" r="2.45" fill="#009a00"/>
<circle cx="207.92" cy="197.30" r="2.45" fill="#009a00"/>
<circle cx="213.93" cy="214.20" r="2.45" fill="#009a00"/>
<circle cx="219.94" cy="214.20" r="2.45" fill="#009a00"/>
<circle cx="226.80" cy="196.54" r="2.45" fill="#009a00"/>
</g>
<g>
<polyline points="105.40,233.40 110.26,233.40 115.11,229.56 119.97,225.72 124.82,229.56 129.68,229.56 134.54,221.88 139.39,229.56 144.25,229.56 149.10,233.40 153.96,229.56 158.82,214.20 163.67,229.56 168.53,221.88 173.38,229.56 178.24,229.56 183.10,218.04 187.95,229.56 192.81,233.40 197.66,233.40 202.52,225.72 207.38,202.68 212.23,229.56 217.09,218.04 221.94,221.88 226.80,221.88" fill="none" stroke="#0000ff" stroke-width="0.80"/>
<circle cx="105.40" cy="233.40" r="2.45" fill="#0000ff"/>
<circle cx="110.26" cy="233.40" r="2.45" fill="#0000ff"/>
<circle cx="115.11" cy="229.56" r="2.45" fill="#0000ff"/>
<circle cx="119.97" cy="225.72" r="2.45" fill="#0000ff"/>
<circle cx="124.82" cy="229.56" r="2.45" fill="#0000ff"/>
<circle cx="129.68" cy="229.56" r="2.45" fill="#0000ff"/>
<circle cx="134.54" cy="221.88" r="2.45" fill="#0000ff"/>
<circle cx="139.39" cy="229.56" r="2.45" fill="#0000ff"/>
<circle cx="144.25" cy="229.56" r="2.45" fill="#0000ff"/>
<circle cx="149.10" cy="233.40" r="2.45" fill="#0000ff"/>
<circle cx="153.96" cy="229.56" r="2.45" fill="#0000ff"/>
<circle cx="158.82" cy="214.20" r="2.45" fill="#0000ff"/>
<circle cx="163.67" cy="229.56" r="2.45" fill="#0000ff"/>
<circle cx="168.53" cy="221.88" r="2.45" fill="#0000ff"/>
<circle cx="173.38" cy="229.56" r="2.45" fill="#0000ff"/>
<circle cx="178.24" cy="229.56" r="2.45" fill="#0000ff"/>
<circle cx="183.10" cy="218.04" r="2.45" fill="#0000ff"/>
<circle cx="187.95" cy="229.56" r="2.45" fill="#0000ff"/>
<circle cx="192.81" cy="233.40" r="2.45" fill="#0000ff"/>
<circle cx="197.66" cy="233.40" r="2.45" fill="#0000ff"/>
<circle cx="202.52" cy="225.72" r="2.45" fill="#0000ff"/>
<circle cx="207.38" cy="202.68" r="2.45" fill="#0000ff"/>
<circle cx="212.23" cy="229.56" r="2.45" fill="#0000ff"/>
<circle cx="217.09" cy="218.04" r="2.45" fill="#0000ff"/>
<circle cx="221.94" cy="221.88" r="2.45" fill="#0000ff"/>
<circle cx="226.80" cy="221.88" r="2.45" fill="#0000ff"/>
</g>
<defs><clipPath id="ins2"><rect x="102.40" y="195.00" width="127.40" height="41.40"/></clipPath></defs>
<text x="100.80" y="238.00" font-size="9.6" text-anchor="end" >0.00</text>
<text x="100.80" y="219.00" font-size="9.6" text-anchor="end" >0.05</text>
<text x="100.80" y="199.00" font-size="9.6" text-anchor="end" >0.10</text>
<text x="105.40" y="245.50" font-size="9.6" text-anchor="middle" >0</text>
<text x="166.10" y="245.50" font-size="9.6" text-anchor="middle" >5</text>
<text x="226.80" y="245.50" font-size="9.6" text-anchor="middle" >10</text>
<text x="46.90" y="10.70" font-size="15.5" text-anchor="start" >A</text>
<text x="249.50" y="10.70" font-size="15.5" text-anchor="start" >B</text>
<text x="449.00" y="10.70" font-size="15.5" text-anchor="start" >C</text>
<text x="46.90" y="151.90" font-size="15.5" text-anchor="start" >D</text>
<text x="249.50" y="151.90" font-size="15.5" text-anchor="start" >E</text>
<text x="449.00" y="151.90" font-size="15.5" text-anchor="start" >F</text>
<text x="51.90" y="126.00" font-size="15.5" text-anchor="end" >0.0</text>
<text x="51.90" y="82.00" font-size="15.5" text-anchor="end" >0.5</text>
<text x="51.90" y="38.00" font-size="15.5" text-anchor="end" >1.0</text>
<text x="641.60" y="126.00" font-size="15.5" text-anchor="start" >0.0</text>
<text x="641.60" y="97.00" font-size="15.5" text-anchor="start" >1.0</text>
<text x="641.60" y="69.00" font-size="15.5" text-anchor="start" >2.0</text>
<text x="641.60" y="40.00" font-size="15.5" text-anchor="start" >3.0</text>
<text x="12.30" y="75.05" font-size="15.5" text-anchor="middle" transform="rotate(-90 12.3 75.05)">g<tspan baseline-shift="-4.65" font-size="12.40">21</tspan>(<tspan font-style="italic">t</tspan>) , g<tspan baseline-shift="-4.65" font-size="12.40">12</tspan>(<tspan font-style="italic">t</tspan>)</text>
<text x="681.60" y="74.55" font-size="15.5" text-anchor="middle" transform="rotate(-90 681.6 74.55)">&#916;<tspan font-style="italic">t</tspan> (ms)</text>
<text x="51.90" y="267.00" font-size="15.5" text-anchor="end" >0.0</text>
<text x="51.90" y="223.00" font-size="15.5" text-anchor="end" >0.5</text>
<text x="51.90" y="180.00" font-size="15.5" text-anchor="end" >1.0</text>
<text x="641.60" y="267.00" font-size="15.5" text-anchor="start" >0.0</text>
<text x="641.60" y="238.00" font-size="15.5" text-anchor="start" >1.0</text>
<text x="641.60" y="209.00" font-size="15.5" text-anchor="start" >2.0</text>
<text x="641.60" y="181.00" font-size="15.5" text-anchor="start" >3.0</text>
<text x="12.30" y="215.75" font-size="15.5" text-anchor="middle" transform="rotate(-90 12.3 215.75)">g<tspan baseline-shift="-4.65" font-size="12.40">21</tspan>(<tspan font-style="italic">t</tspan>) , g<tspan baseline-shift="-4.65" font-size="12.40">12</tspan>(<tspan font-style="italic">t</tspan>)</text>
<text x="681.60" y="215.25" font-size="15.5" text-anchor="middle" transform="rotate(-90 681.6 215.25)">&#916;<tspan font-style="italic">t</tspan> (ms)</text>
<text x="61.80" y="281.80" font-size="15.5" text-anchor="middle" >0</text>
<text x="148.70" y="281.80" font-size="15.5" text-anchor="middle" >5</text>
<text x="236.80" y="281.80" font-size="15.5" text-anchor="middle" >10</text>
<text x="149.00" y="304.60" font-size="15.5" text-anchor="middle" >Time (s)</text>
<text x="260.80" y="281.80" font-size="15.5" text-anchor="middle" >0</text>
<text x="346.70" y="281.80" font-size="15.5" text-anchor="middle" >5</text>
<text x="433.80" y="281.80" font-size="15.5" text-anchor="middle" >10</text>
<text x="347.00" y="304.60" font-size="15.5" text-anchor="middle" >Time (s)</text>
<text x="457.80" y="281.80" font-size="15.5" text-anchor="middle" >0</text>
<text x="544.70" y="281.80" font-size="15.5" text-anchor="middle" >5</text>
<text x="632.80" y="281.80" font-size="15.5" text-anchor="middle" >10</text>
<text x="545.00" y="304.60" font-size="15.5" text-anchor="middle" >Time (s)</text>
<text x="96.30" y="55.00" font-size="12.5" text-anchor="start" >(1,1)</text>
<text x="421.70" y="55.00" font-size="12.5" text-anchor="end" >(0.05,1)</text>
<text x="620.00" y="55.00" font-size="12.6" text-anchor="end" >(g<tspan baseline-shift="-3.78" font-size="10.08">21</tspan>,g<tspan baseline-shift="-3.78" font-size="10.08">12</tspan>) = (1,0.05)</text>
<text x="227.70" y="186.00" font-size="12.5" text-anchor="end" >(0.05,0.05)</text>
<text x="421.70" y="196.00" font-size="12.5" text-anchor="end" >(1,0.05)</text>
<text x="619.70" y="196.00" font-size="12.5" text-anchor="end" >(0.05,1)</text>
<text x="167.30" y="63.10" font-size="15.5" text-anchor="end" >g<tspan baseline-shift="-4.65" font-size="12.40">21</tspan>(<tspan font-style="italic">t</tspan>)</text>
<path d="M176.5 59.30H218.1" stroke="#ff0000" stroke-width="0.68"/>
<circle cx="197.0" cy="59.30" r="2.45" fill="#ff0000"/>
<text x="167.30" y="78.50" font-size="15.5" text-anchor="end" >g<tspan baseline-shift="-4.65" font-size="12.40">12</tspan>(<tspan font-style="italic">t</tspan>)</text>
<path d="M176.5 74.70H218.1" stroke="#009a00" stroke-width="0.68"/>
<circle cx="197.0" cy="74.70" r="2.45" fill="#009a00"/>
<text x="167.30" y="93.90" font-size="15.5" text-anchor="end" >&#916;<tspan font-style="italic">t</tspan></text>
<path d="M176.5 90.10H218.1" stroke="#0000ff" stroke-width="0.68"/>
<circle cx="197.0" cy="90.10" r="2.45" fill="#0000ff"/>
</svg>
</body></html>
